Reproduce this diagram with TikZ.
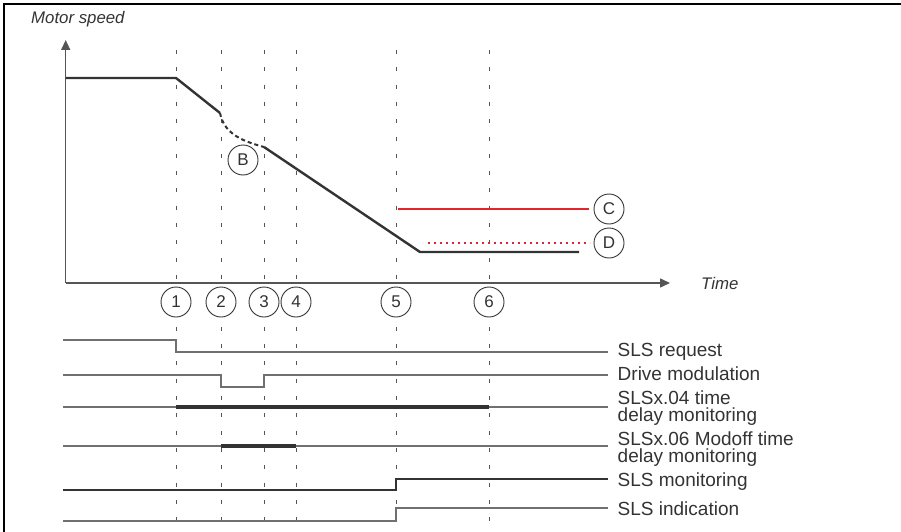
\documentclass[tikz,border=0pt]{standalone}
\usepackage{fontspec}
\setmainfont{Liberation Sans}
\usetikzlibrary{arrows.meta}
\definecolor{ink}{HTML}{333333}
\definecolor{sig}{HTML}{707070}
\definecolor{grid}{HTML}{555555}
\definecolor{alarm}{HTML}{E3242B}
\tikzset{
  frameline/.style={line width=1.5pt,black},
  axisline/.style={line width=1.4pt,grid,-{Triangle[length=10pt,width=9pt]}},
  gridline/.style={line width=1pt,grid,dash pattern=on 4pt off 13.3pt},
  speed/.style={line width=2.4pt,ink},
  signal/.style={line width=1.6pt,sig},
  bar/.style={line width=4.2pt,ink},
  marker/.style={circle,draw=ink,line width=0.9pt,fill=white,minimum size=30pt,inner sep=0pt,text=ink,font=\fontsize{17}{17}\selectfont},
  sigtext/.style={anchor=base west,inner sep=0pt,text=ink,align=left,font=\fontsize{19}{17}\selectfont},
  axtext/.style={inner sep=0pt,text=ink,font=\fontsize{16.8}{17}\selectfont\itshape}
}
\begin{document}
\begin{tikzpicture}[x=1pt,y=-1pt]
\useasboundingbox (0,0) rectangle (901,532);
% frame
\draw[frameline] (4,532) -- (4,4) -- (901,4);
% vertical grid lines
\foreach \gx in {176,221,264,296,396,489}
  \draw[gridline] (\gx,50) -- (\gx,532);
% axes
\coordinate (orig) at (65.7,283);
\coordinate (ytip) at (65.7,40);
\coordinate (xtip) at (670,283);
\draw[axisline] (orig) -- (ytip);
\draw[axisline] (orig) -- (xtip);
\node[axtext,anchor=west] (ms) at (31,19) {Motor speed};
\node[axtext,anchor=west] (tm) at (701,283) {Time};
% speed curve
\draw[speed] (65.7,78) -- (176,78) -- (220,113);
\draw[speed,line width=2pt,dash pattern=on 4pt off 3pt] (220,113) .. controls (224,132) and (238,140) .. (264,147);
\draw[speed] (264,147) -- (420,252) -- (579,252);
% red limits
\draw[alarm,line width=2.6pt] (398,209) -- (589,209);
\draw[alarm,line width=2.2pt,dash pattern=on 2pt off 4pt] (428,243) -- (590,243);
% markers
\node[marker] (B) at (243,160) {B};
\node[marker] (C) at (609,209) {C};
\node[marker] (D) at (609,243) {D};
\node[marker] (m1) at (176,302) {1};
\node[marker] (m2) at (221,302) {2};
\node[marker] (m3) at (264,302) {3};
\node[marker] (m4) at (296,302) {4};
\node[marker] (m5) at (396,302) {5};
\node[marker] (m6) at (489,302) {6};
% timing signals
\draw[signal] (63,340) -- (176,340) -- (176,352) -- (608,352);
\draw[signal] (63,375) -- (221,375) -- (221,387) -- (264,387) -- (264,375) -- (608,375);
\draw[signal] (63,407) -- (608,407);
\draw[bar] (176,407) -- (489,407);
\draw[signal] (63,446) -- (608,446);
\draw[bar] (221,446) -- (296,446);
\draw[signal,ink] (63,490) -- (396,490) -- (396,479) -- (608,479);
\draw[signal] (63,521) -- (396,521) -- (396,508) -- (608,508);
% labels
\node[sigtext] (l1) at (617.5,356.5) {SLS request};
\node[sigtext] (l2) at (617.5,380) {Drive modulation};
\node[sigtext] (l3) at (617.5,421.5) {SLSx.04 time\\delay monitoring};
\node[sigtext] (l4) at (617.5,462.5) {SLSx.06 Modoff time\\delay monitoring};
\node[sigtext] (l5) at (617.5,486.5) {SLS monitoring};
\node[sigtext] (l6) at (617.5,515) {SLS indication};
\end{tikzpicture}
\end{document}
